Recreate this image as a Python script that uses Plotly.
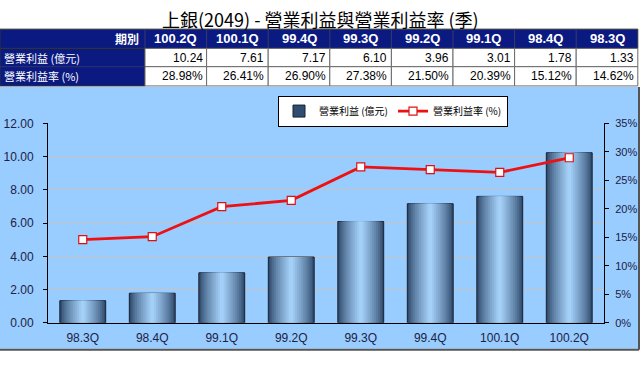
import plotly.graph_objects as go

# ---- data (table order, newest first) ----
periods = ["100.2Q", "100.1Q", "99.4Q", "99.3Q", "99.2Q", "99.1Q", "98.4Q", "98.3Q"]
op_income = [10.24, 7.61, 7.17, 6.10, 3.96, 3.01, 1.78, 1.33]          # 億元
op_margin = [28.98, 26.41, 26.90, 27.38, 21.50, 20.39, 15.12, 14.62]  # %

title_text = "上銀(2049) - 營業利益與營業利益率 (季)"
header_label = "期別"
row_labels = ["營業利益 (億元)", "營業利益率 (%)"]
bar_name = "營業利益 (億元)"
line_name = "營業利益率 (%)"

# chart order (oldest first)
cats = periods[::-1]
inc = op_income[::-1]
mar = [v / 100 for v in op_margin[::-1]]

W, H = 640, 376
def px(x):
    return x / W
def py(y):
    return 1 - y / H

fig = go.Figure()

# ---- bars with simulated horizontal gradient (overlaid layers) ----
def lerp(c1, c2, t):
    return "#%02x%02x%02x" % tuple(int(round(a + (b - a) * t)) for a, b in zip(c1, c2))

dark = (0x30, 0x4c, 0x6e)
light = (0xa4, 0xd0, 0xf8)
N = 12
base_w = 0.66
for i in range(N):
    t = i / (N - 1)
    w = base_w * (1 - i / N)
    col = lerp(dark, light, t ** 0.8)
    fig.add_trace(go.Bar(
        x=cats, y=inc, width=w, name=bar_name,
        marker=dict(color=col,
                    line=dict(color="#1a2230", width=1 if i == 0 else 0)),
        showlegend=(i == 0), legendrank=1,
        yaxis="y", xaxis="x",
    ))

# ---- line ----
fig.add_trace(go.Scatter(
    x=cats, y=mar, name=line_name, mode="lines+markers",
    line=dict(color="#ee1111", width=2.8),
    marker=dict(symbol="square", size=8, color="white",
                line=dict(color="#dd1111", width=1.2)),
    yaxis="y2", xaxis="x", legendrank=2,
))

# ---- table built from shapes + annotations ----
navy = "#0b1a80"
gridc = "#6a6a6a"
col_x = [0, 145] + [145 + 61.6 * (k + 1) for k in range(8)]
row_y = [23, 43, 62, 82]
shapes = [
    # blue chart background
    dict(type="rect", xref="paper", yref="paper", x0=0, x1=px(638),
         y0=py(355), y1=py(83), fillcolor="#99ccff", line=dict(width=0), layer="below"),
    dict(type="line", xref="paper", yref="paper", x0=0, x1=px(639),
         y0=py(356), y1=py(356), line=dict(color="#555555", width=2)),
    dict(type="line", xref="paper", yref="paper", x0=px(639), x1=px(639),
         y0=py(356), y1=py(83), line=dict(color="#555555", width=2)),
    # header row
    dict(type="rect", xref="paper", yref="paper", x0=px(col_x[0]), x1=px(col_x[-1]),
         y0=py(row_y[1]), y1=py(row_y[0]), fillcolor=navy, line=dict(color="#333333", width=1)),
    # label column
    dict(type="rect", xref="paper", yref="paper", x0=px(col_x[0]), x1=px(col_x[1]),
         y0=py(row_y[3]), y1=py(row_y[1]), fillcolor=navy, line=dict(color="#333333", width=1)),
]
annotations = []
for k in range(1, len(col_x) - 1):
    shapes.append(dict(type="line", xref="paper", yref="paper", x0=px(col_x[k]), x1=px(col_x[k]),
                       y0=py(row_y[1]), y1=py(row_y[0]), line=dict(color="#3a3a6a", width=1)))
for r in range(2):
    for c in range(8):
        shapes.append(dict(type="rect", xref="paper", yref="paper",
                           x0=px(col_x[c + 1]), x1=px(col_x[c + 2]),
                           y0=py(row_y[r + 2]), y1=py(row_y[r + 1]),
                           fillcolor="white", line=dict(color=gridc, width=1)))
shapes.append(dict(type="line", xref="paper", yref="paper", x0=0, x1=px(col_x[1]),
                   y0=py(row_y[2]), y1=py(row_y[2]), line=dict(color="#333366", width=1)))

tfont = "Liberation Sans"
def ycen(r):
    return py((row_y[r] + row_y[r + 1]) / 2)

annotations.append(dict(text=f"<b>{header_label}</b>", x=px(col_x[1] - 4), y=ycen(0),
                        xref="paper", yref="paper", xanchor="right", yanchor="middle",
                        showarrow=False, font=dict(family="Noto Sans CJK TC", size=12, color="white")))
for c, p in enumerate(periods):
    annotations.append(dict(text=f"<b>{p}</b>", x=px((col_x[c + 1] + col_x[c + 2]) / 2), y=ycen(0),
                            xref="paper", yref="paper", xanchor="center", yanchor="middle",
                            showarrow=False, font=dict(family=tfont, size=13, color="white")))
for r, lab in enumerate(row_labels):
    annotations.append(dict(text=lab, x=px(2), y=ycen(r + 1), xref="paper", yref="paper",
                            xanchor="left", yanchor="middle", showarrow=False,
                            font=dict(family="Noto Sans CJK TC", size=11, color="white")))
for c in range(8):
    vals = [f"{op_income[c]:.2f}", f"{op_margin[c]:.2f}%"]
    for r, v in enumerate(vals):
        annotations.append(dict(text=v, x=px(col_x[c + 2] - 2), y=ycen(r + 1),
                                xref="paper", yref="paper", xanchor="right", yanchor="middle",
                                showarrow=False, font=dict(family=tfont, size=12, color="black")))

# title
annotations.append(dict(text=title_text, x=px(320), y=py(12), xref="paper", yref="paper",
                        xanchor="center", yanchor="middle", showarrow=False,
                        font=dict(family="Noto Sans CJK TC", size=18, color="black")))

tickfont = dict(family="Liberation Sans", size=12, color="#1c2244")

fig.update_layout(
    width=W, height=H, margin=dict(l=0, r=0, t=0, b=0),
    paper_bgcolor="white", plot_bgcolor="white",
    barmode="overlay", bargap=0.34,
    xaxis=dict(domain=[px(48), px(604)], showline=True, linecolor="black", linewidth=1,
               ticks="", tickfont=tickfont, showgrid=False, fixedrange=True,
               ticklabelstandoff=4),
    yaxis=dict(domain=[py(328), py(121)], range=[0, 12], dtick=2, tickformat=".2f",
               showline=True, linecolor="black", linewidth=1, ticks="outside",
               ticklen=4, tickcolor="black", gridcolor="#c4c4c4", gridwidth=1,
               tickfont=tickfont, zeroline=False, ticklabelstandoff=7, fixedrange=True),
    yaxis2=dict(overlaying="y", side="right", range=[0, 0.35], dtick=0.05,
                tickformat=".0%", showline=True, linecolor="black", linewidth=1,
                ticks="outside", ticklen=4, tickcolor="black", showgrid=False,
                tickfont=dict(family="Liberation Sans", size=11, color="#1c2244"),
                zeroline=False, ticklabelstandoff=4, fixedrange=True),
    legend=dict(orientation="h", x=px(278), y=py(92), xanchor="left", yanchor="top",
                bgcolor="white", bordercolor="black", borderwidth=1,
                font=dict(family="Noto Sans CJK TC", size=10, color="black"),
                itemwidth=30, tracegroupgap=0),
    hovermode=False,
    shapes=shapes,
    annotations=annotations,
)

fig.write_html("out.html",
               config={"displayModeBar": False},
               post_script="document.body.style.margin='0';document.body.style.overflow='hidden';")
